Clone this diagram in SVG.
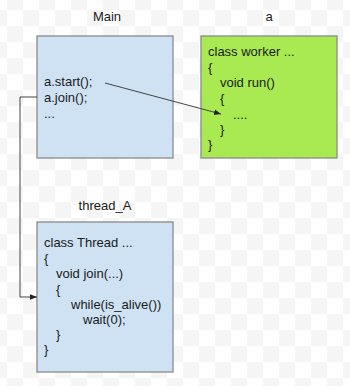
<svg xmlns="http://www.w3.org/2000/svg" width="350" height="386" viewBox="0 0 350 386">
<defs>
<pattern id="chk" x="7" y="-6" width="32" height="32" patternUnits="userSpaceOnUse">
<rect width="32" height="32" fill="#ffffff"/>
<rect width="16" height="16" fill="#f5f5f5"/>
<rect x="16" y="16" width="16" height="16" fill="#f5f5f5"/>
</pattern>
<marker id="arr" viewBox="0 0 10 10" refX="10" refY="5" markerWidth="7" markerHeight="7" orient="auto" markerUnits="userSpaceOnUse">
<path d="M0,1 L10,5 L0,9 z" fill="#222"/>
</marker>
<style>
.box{stroke:#8a8a8a;stroke-width:1.3}
.blue{fill:#cfe2f3}
.green{fill:#a9ea52}
text{font-family:"Liberation Sans",Arial,sans-serif;font-size:13px;fill:#1a1a1a}
.lbl{text-anchor:middle}
.edge{fill:none;stroke:#444;stroke-width:1}
</style>
</defs>
<rect width="350" height="386" fill="url(#chk)"/>
<g id="main">
<text class="lbl" x="107" y="21">Main</text>
<rect class="box blue" x="37" y="36" width="136" height="122"/>
<text x="44" y="86">a.start();</text>
<text x="44" y="102">a.join();</text>
<text x="44" y="118">...</text>
</g>
<g id="a">
<text class="lbl" x="269" y="21">a</text>
<rect class="box green" x="201" y="36" width="136" height="122"/>
<text x="208" y="56">class worker ...</text>
<text x="208" y="72">{</text>
<text x="220" y="87">void run()</text>
<text x="220" y="103">{</text>
<text x="233" y="119">....</text>
<text x="220" y="134">}</text>
<text x="208" y="149">}</text>
</g>
<g id="thread_A">
<text class="lbl" x="105" y="210">thread_A</text>
<rect class="box blue" x="37" y="222" width="136" height="150"/>
<text x="44" y="247">class Thread ...</text>
<text x="44" y="263">{</text>
<text x="56" y="278">void join(...)</text>
<text x="56" y="294">{</text>
<text x="71" y="309">while(is_alive())</text>
<text x="83" y="324">wait(0);</text>
<text x="56" y="339">}</text>
<text x="44" y="354">}</text>
</g>
<g id="connectors">
<path class="edge" d="M105,83 L221,114" marker-end="url(#arr)"/>
<path class="edge" d="M37,97 L20,97 L20,297 L37,297" marker-end="url(#arr)"/>
</g>
</svg>
